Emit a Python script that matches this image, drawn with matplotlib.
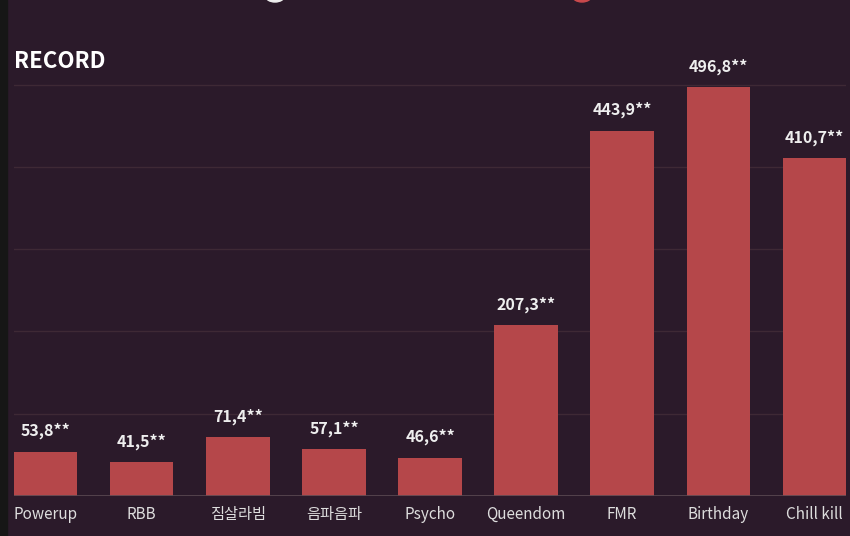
import matplotlib
matplotlib.use("Agg")
import matplotlib.pyplot as plt
from matplotlib.patches import Circle, Rectangle

categories = ["Powerup", "RBB", "짐살라빔", "음파음파", "Psycho", "Queendom", "FMR", "Birthday", "Chill kill"]
values = [53.8, 41.5, 71.4, 57.1, 46.6, 207.3, 443.9, 496.8, 410.7]
labels = ["53,8**", "41,5**", "71,4**", "57,1**", "46,6**", "207,3**", "443,9**", "496,8**", "410,7**"]
title = "RECORD"

plt.rcParams['font.family'] = ['Noto Sans CJK KR', 'DejaVu Sans']

BG = "#2b1a2a"
BAR = "#b5474a"
W, H = 850, 536
fig = plt.figure(figsize=(W/100, H/100), dpi=100, facecolor=BG)

# dark strip at left edge
fig.add_artist(Rectangle((0, 0), 7/W, 1, transform=fig.transFigure, color="#161616", zorder=0))

ymax = 560
px_per_unit = 82.3 / 100
ax_h_px = ymax * px_per_unit
bottom_px = 40
ax = fig.add_axes([14/W, bottom_px/H, 832/W, ax_h_px/H])
ax.set_facecolor(BG)
ax.set_xlim(-0.33, len(categories) - 1 + 0.33)
ax.set_ylim(0, ymax)

for y in [100, 200, 300, 400, 500]:
    ax.axhline(y, color="#3e2935", lw=1.0, zorder=1)
ax.axhline(0, color="#5a4a52", lw=1.2, zorder=3)

x = list(range(len(categories)))
ax.bar(x, values, width=0.66, color=BAR, zorder=2)
for xi, v, lab in zip(x, values, labels):
    ax.text(xi, v + 15, lab, ha="center", va="bottom", color="#eeeeee",
            fontsize=11.5, fontweight="bold", zorder=4)

ax.set_xticks(x)
ax.set_xticklabels(categories, color="#dddddd", fontsize=11)
ax.tick_params(axis="x", length=0, pad=7)
ax.set_yticks([])
for s in ax.spines.values():
    s.set_visible(False)

fig.text(14/W, 1 - 61/H, title, color="white", fontsize=16, fontweight="bold",
         va="center", ha="left")

# partially visible legend markers at the top edge
fig.add_artist(Circle((275/W, 1 + 4/H), 6/H, transform=fig.transFigure, color="#eeeeee",
                      clip_on=False))
fig.add_artist(Circle((582/W, 1 + 4/H), 6/H, transform=fig.transFigure, color="#c9494c",
                      clip_on=False))

fig.savefig("out.png", dpi=100, facecolor=BG)
